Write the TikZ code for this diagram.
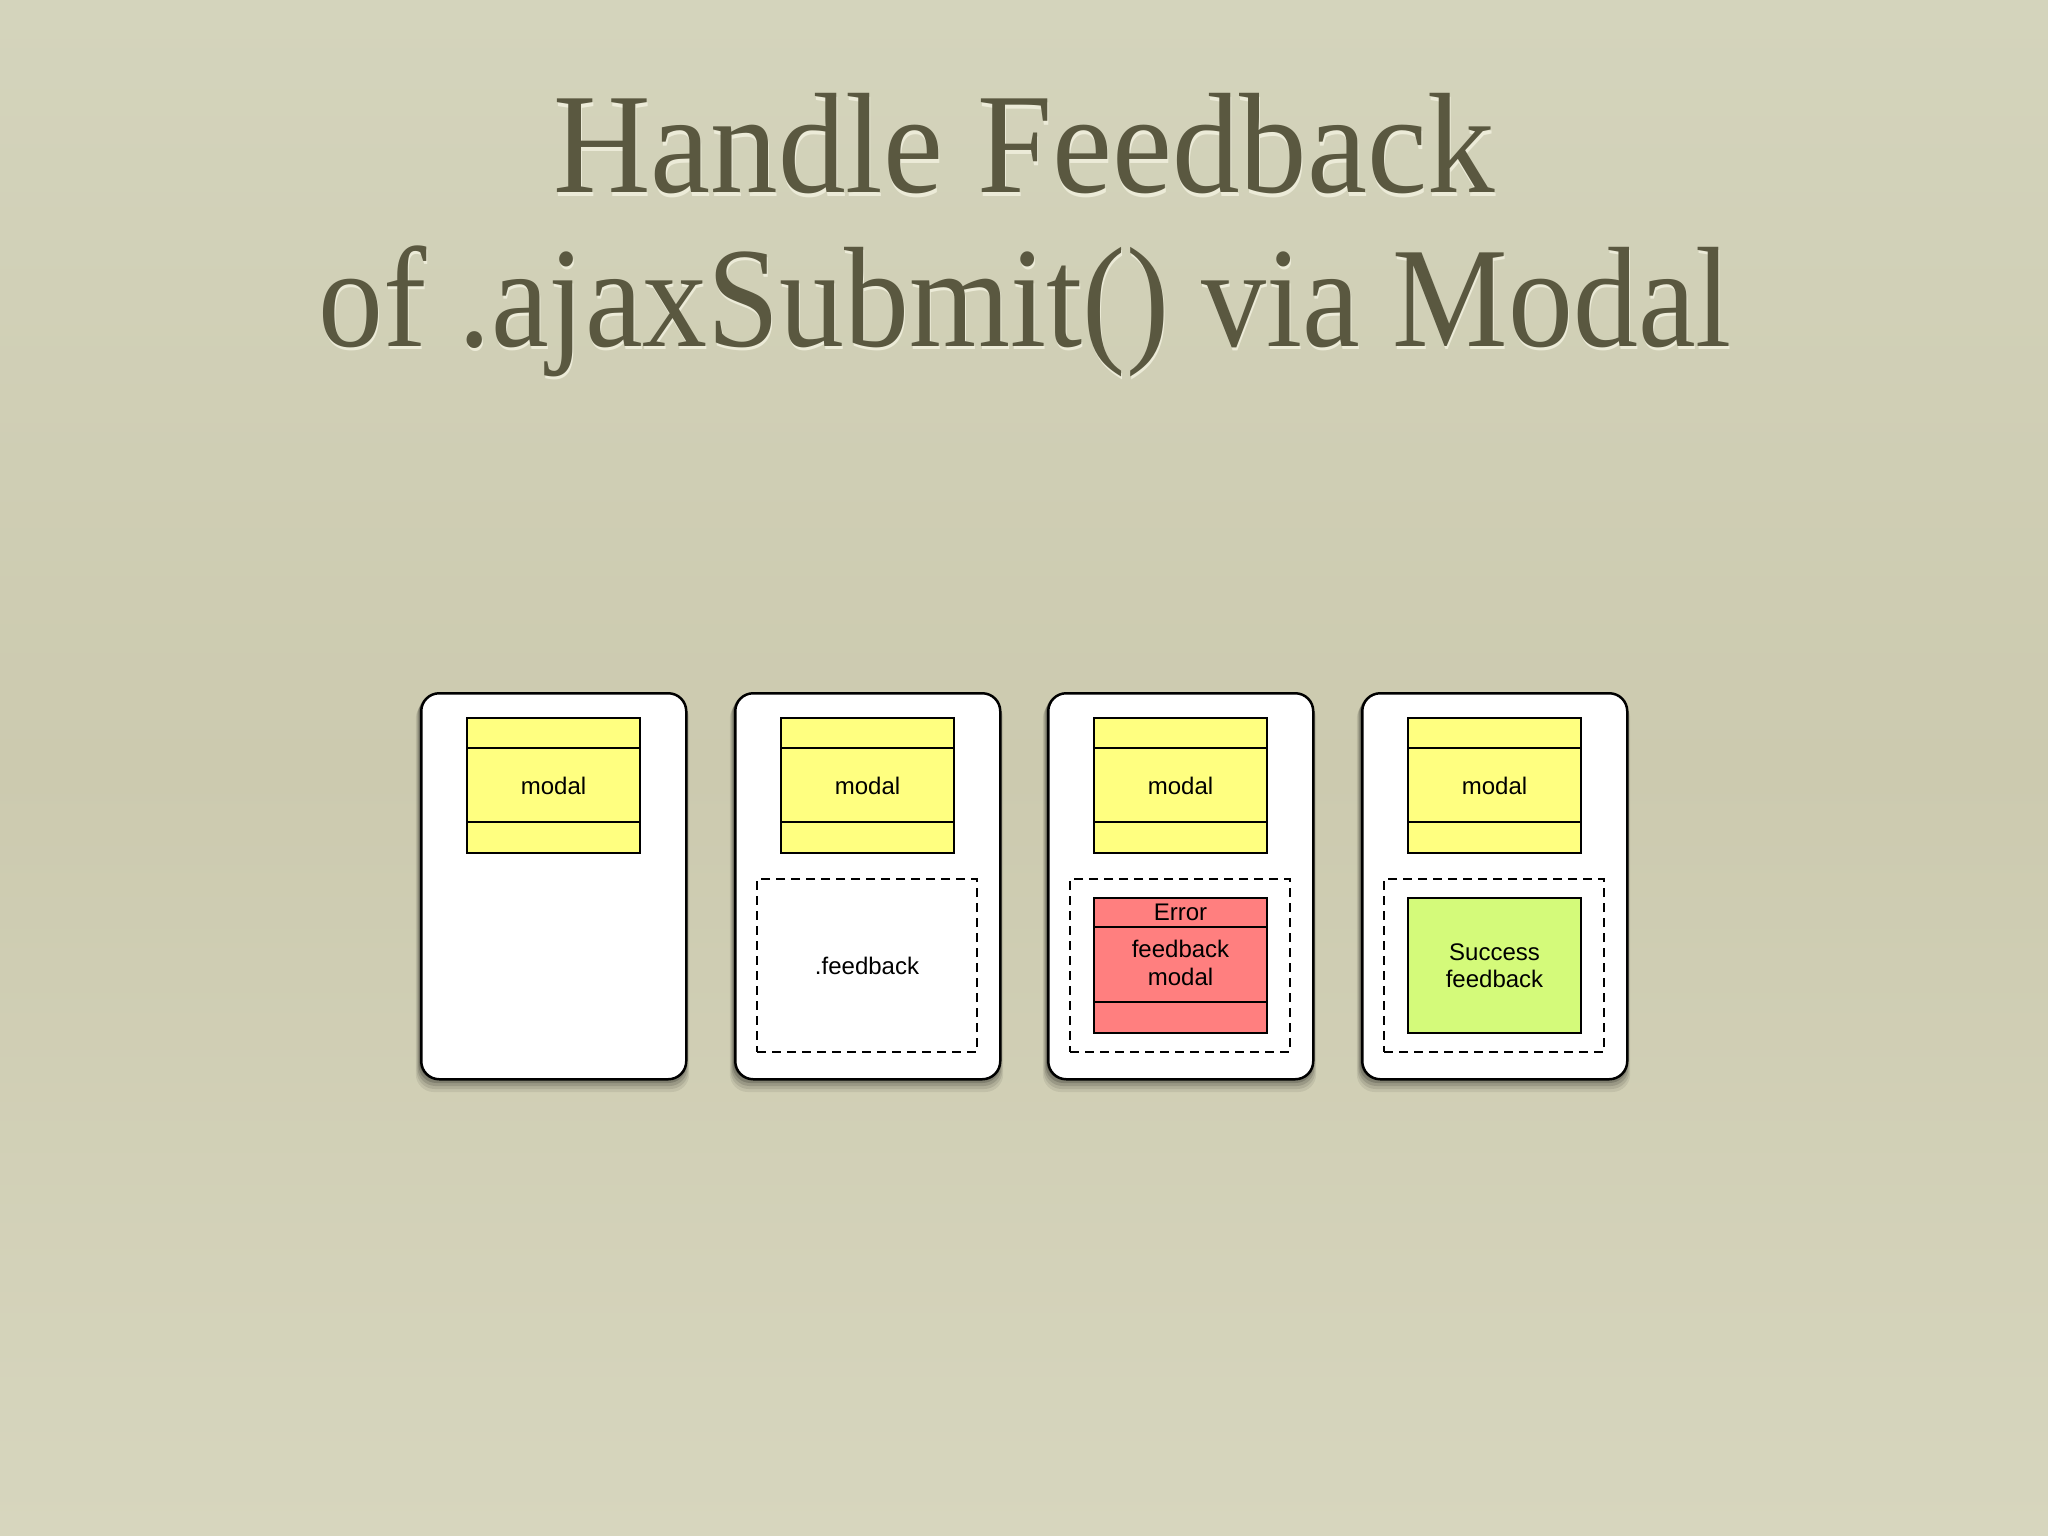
\documentclass[tikz,border=0pt]{standalone}
\usepackage{fontspec}
\setmainfont{Liberation Serif}
\newfontfamily\boxfont{Liberation Sans}
\usetikzlibrary{calc}
\definecolor{bgtop}{HTML}{D4D4BC}
\definecolor{bgmid}{HTML}{CCCAAF}
\definecolor{bgbot}{HTML}{D7D6BE}
\definecolor{titlecol}{HTML}{5A5840}
\definecolor{titlehi}{HTML}{ECEBD8}
\definecolor{modalyellow}{HTML}{FFFF80}
\definecolor{errred}{HTML}{FF7F7F}
\definecolor{okgreen}{HTML}{D4FA7A}
\tikzset{
  cardbox/.style={draw=black, line width=2.5pt, fill=white, rounded corners=18pt,
    minimum width=265pt, minimum height=386pt, inner sep=0pt, anchor=north west},
  cardshadow/.style={fill=black, rounded corners=18pt},
  partbox/.style={draw=black, line width=2pt, minimum width=173pt, minimum height=135pt,
    inner sep=0pt, anchor=north west, font=\boxfont\fontsize{24}{27.5}\selectfont, align=center},
  dashbox/.style={draw=black, line width=2pt, dash pattern=on 9pt off 6pt, fill=white,
    minimum width=220pt, minimum height=173pt, inner sep=0pt, anchor=north west,
    font=\boxfont\fontsize{24}{27.5}\selectfont},
  divider/.style={draw=black, line width=2pt},
  titletext/.style={anchor=base, inner sep=0pt, text=titlecol,
    font=\fontsize{143}{150}\selectfont},
  titleglow/.style={anchor=base, inner sep=0pt, text=titlehi,
    font=\fontsize{143}{150}\selectfont}
}
\begin{document}
\begin{tikzpicture}[x=1pt,y=-1pt]
\useasboundingbox (0,0) rectangle (2048,1536);
\shade[top color=bgtop, bottom color=bgmid] (0,0) rectangle (2048,768);
\shade[top color=bgmid, bottom color=bgbot] (0,768) rectangle (2048,1536);
% title
\node[titleglow] (t1g) at (1025,196) {\scalebox{0.945}[1]{Handle Feedback}};
\node[titleglow] (t2g) at (1026,349) {\scalebox{0.908}[1]{of .ajaxSubmit() via Modal}};
\node[titletext] (t1) at (1024,193) {\scalebox{0.945}[1]{Handle Feedback}};
\node[titletext] (t2) at (1025,346) {\scalebox{0.908}[1]{of .ajaxSubmit() via Modal}};
% card shadows
\foreach \cx in {420,734,1047,1361}{
  \foreach \d/\o in {14/0.07,11/0.09,8/0.12,5/0.16,2/0.2}{
    \fill[cardshadow, opacity=\o] (\cx-\d*0.3,692+\d*0.6) rectangle (\cx+265+\d*0.3,1078+\d);
  }
}
% cards
\node[cardbox] (c1) at (420,692) {};
\node[cardbox] (c2) at (734,692) {};
\node[cardbox] (c3) at (1047,692) {};
\node[cardbox] (c4) at (1361,692) {};
% modal boxes
\foreach \i/\cx in {1/419,2/733,3/1046,4/1360}{
  \node[partbox, fill=modalyellow] (m\i) at (\cx+47,717) {modal};
  \draw[divider] ($(m\i.north west)+(0,31)$) -- ($(m\i.north east)+(0,31)$);
  \draw[divider] ($(m\i.north west)+(0,104.5)$) -- ($(m\i.north east)+(0,104.5)$);
}
% dashed feedback areas
\node[dashbox] (f2) at (756,878) {.feedback};
\node[dashbox] (f3) at (1069,878) {};
\node[dashbox] (f4) at (1383,878) {};
% error modal
\node[partbox, fill=errred] (e3) at (1093,897) {};
\draw[divider] ($(e3.north west)+(0,30)$) -- ($(e3.north east)+(0,30)$);
\draw[divider] ($(e3.north west)+(0,105)$) -- ($(e3.north east)+(0,105)$);
\node[font=\boxfont\fontsize{24}{27.5}\selectfont, inner sep=0pt] (e3t) at ($(e3.north)+(0,15)$) {Error};
\node[font=\boxfont\fontsize{24}{27.5}\selectfont, inner sep=0pt, align=center] (e3b) at ($(e3.north)+(0,66)$) {feedback\\modal};
% success
\node[partbox, fill=okgreen] (s4) at (1407,897) {Success\\feedback};
\end{tikzpicture}
\end{document}
